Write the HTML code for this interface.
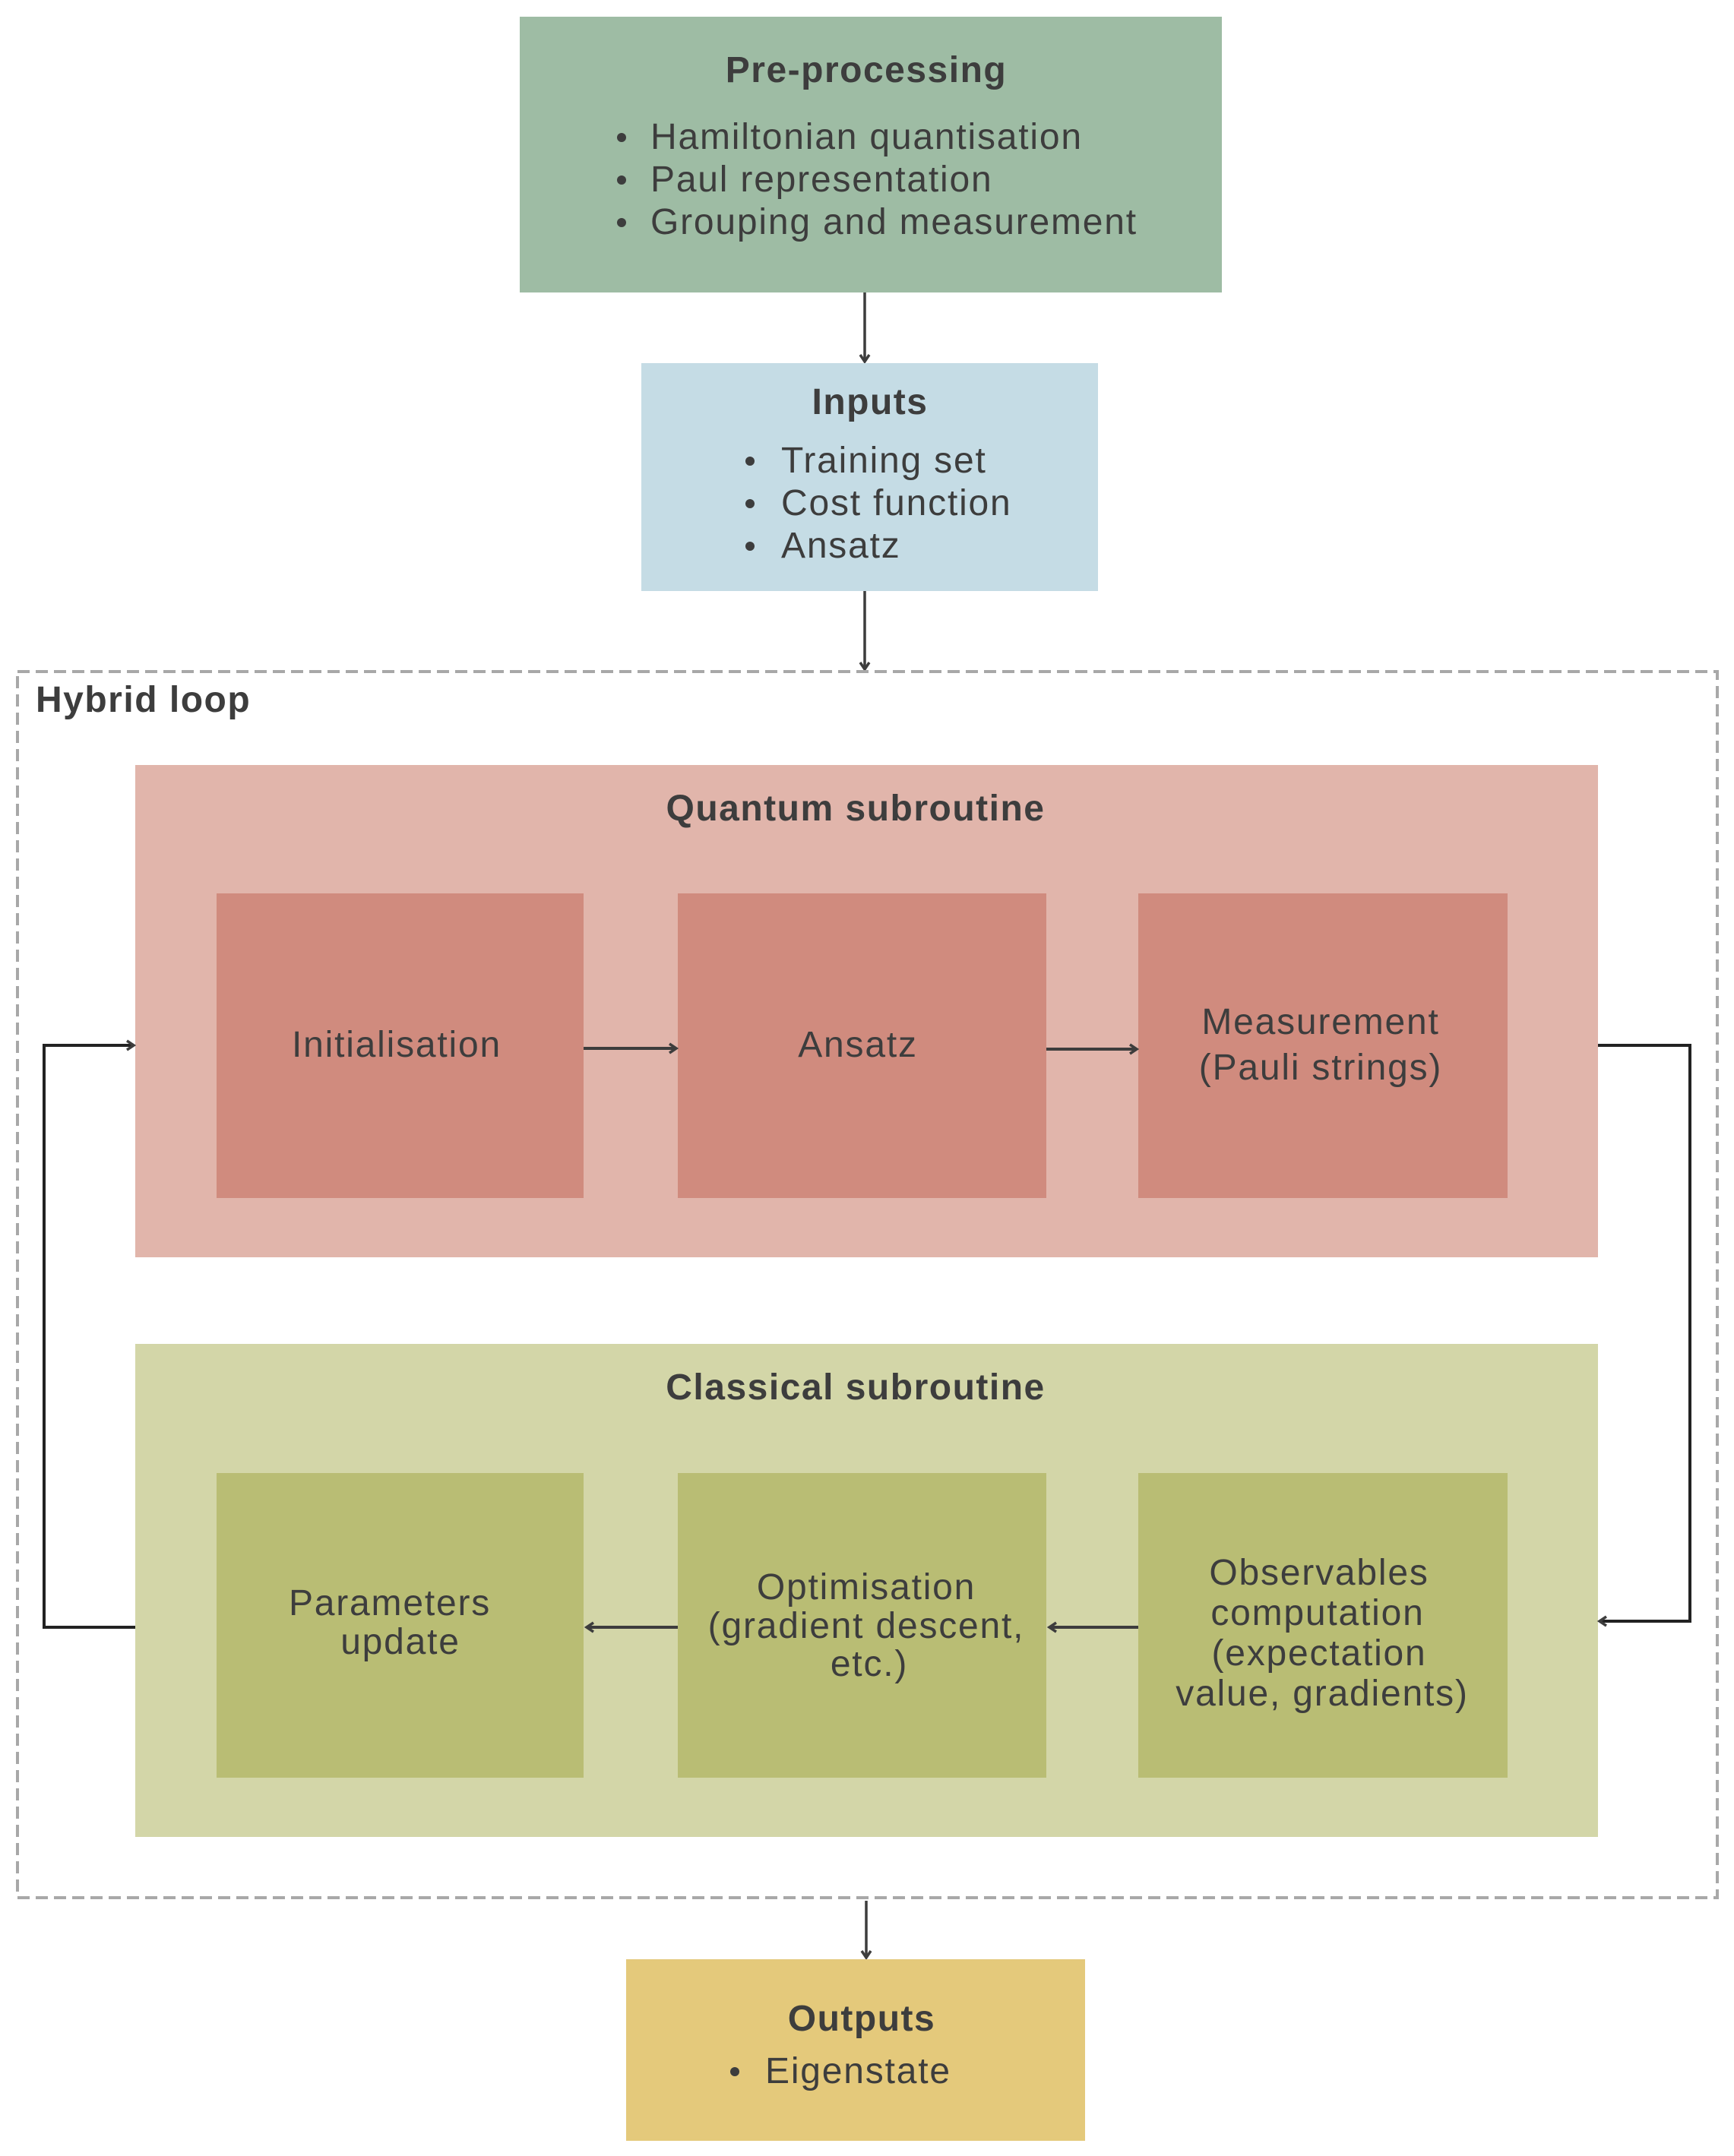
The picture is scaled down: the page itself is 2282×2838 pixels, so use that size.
<!DOCTYPE html>
<html><head><meta charset="utf-8"><style>
html,body{margin:0;padding:0;background:#fff;}
svg{display:block;}
text{font-family:"Liberation Sans",sans-serif;fill:#3d3d3d;}
.b{font-weight:bold;font-size:48px;letter-spacing:1.5px;}
.r{font-size:48px;letter-spacing:1.8px;}
</style></head><body>
<svg width="2282" height="2838" viewBox="0 0 2282 2838" xmlns="http://www.w3.org/2000/svg">
<defs>
<marker id="a" markerWidth="16" markerHeight="16" refX="12" refY="8" orient="auto" markerUnits="userSpaceOnUse">
<path d="M3,2 L12,8 L3,14" fill="none" stroke="#3d3d3d" stroke-width="3.5"/>
</marker>
</defs>
<rect x="684" y="22" width="924" height="363" fill="#9ebca4"/>
<text class="b" x="1140" y="108" text-anchor="middle">Pre-processing</text>
<circle cx="818" cy="181" r="6" fill="#3d3d3d"/><text class="r" x="856" y="196">Hamiltonian quantisation</text>
<circle cx="818" cy="237" r="6" fill="#3d3d3d"/><text class="r" x="856" y="252">Paul representation</text>
<circle cx="818" cy="293" r="6" fill="#3d3d3d"/><text class="r" x="856" y="308">Grouping and measurement</text>
<line x1="1138" y1="385" x2="1138" y2="476" stroke="#3d3d3d" stroke-width="3.5" marker-end="url(#a)"/>
<rect x="844" y="478" width="601" height="300" fill="#c5dce5"/>
<text class="b" x="1145" y="545" text-anchor="middle">Inputs</text>
<circle cx="987" cy="607" r="6" fill="#3d3d3d"/><text class="r" x="1028" y="622">Training set</text>
<circle cx="987" cy="663" r="6" fill="#3d3d3d"/><text class="r" x="1028" y="678">Cost function</text>
<circle cx="987" cy="719" r="6" fill="#3d3d3d"/><text class="r" x="1028" y="734">Ansatz</text>
<line x1="1138" y1="778" x2="1138" y2="881" stroke="#3d3d3d" stroke-width="3.5" marker-end="url(#a)"/>
<rect x="23" y="884" width="2237" height="1614" fill="none" stroke="#a8a8a8" stroke-width="4" stroke-dasharray="16,8"/>
<text class="b" x="47" y="937">Hybrid loop</text>
<rect x="178" y="1007" width="1925" height="648" fill="#e1b5ab"/>
<text class="b" x="1126" y="1080" text-anchor="middle">Quantum subroutine</text>
<rect x="285" y="1176" width="483" height="401" fill="#d08b7e"/>
<rect x="892" y="1176" width="485" height="401" fill="#d08b7e"/>
<rect x="1498" y="1176" width="486" height="401" fill="#d08b7e"/>
<text class="r" x="522" y="1391" text-anchor="middle">Initialisation</text>
<text class="r" x="1129" y="1391" text-anchor="middle">Ansatz</text>
<text class="r" x="1738" y="1361" text-anchor="middle">Measurement</text>
<text class="r" x="1738" y="1421" text-anchor="middle">(Pauli strings)</text>
<line x1="768" y1="1380" x2="890" y2="1380" stroke="#3d3d3d" stroke-width="4" marker-end="url(#a)"/>
<line x1="1377" y1="1381" x2="1496" y2="1381" stroke="#3d3d3d" stroke-width="4" marker-end="url(#a)"/>
<rect x="178" y="1769" width="1925" height="649" fill="#d3d6a8"/>
<text class="b" x="1126" y="1842" text-anchor="middle">Classical subroutine</text>
<rect x="285" y="1939" width="483" height="401" fill="#b9bd74"/>
<rect x="892" y="1939" width="485" height="401" fill="#b9bd74"/>
<rect x="1498" y="1939" width="486" height="401" fill="#b9bd74"/>
<text class="r" x="513" y="2126" text-anchor="middle">Parameters</text>
<text class="r" x="527" y="2177" text-anchor="middle">update</text>
<text class="r" x="1140" y="2105" text-anchor="middle">Optimisation</text>
<text class="r" x="1140" y="2156" text-anchor="middle">(gradient descent,</text>
<text class="r" x="1144" y="2206" text-anchor="middle">etc.)</text>
<text class="r" x="1736" y="2086" text-anchor="middle">Observables</text>
<text class="r" x="1734" y="2139" text-anchor="middle">computation</text>
<text class="r" x="1736" y="2192" text-anchor="middle">(expectation</text>
<text class="r" x="1740" y="2245" text-anchor="middle">value, gradients)</text>
<line x1="892" y1="2142" x2="772" y2="2142" stroke="#3d3d3d" stroke-width="4" marker-end="url(#a)"/>
<line x1="1498" y1="2142" x2="1381" y2="2142" stroke="#3d3d3d" stroke-width="4" marker-end="url(#a)"/>
<polyline points="178,2142 58,2142 58,1376 176,1376" fill="none" stroke="#222" stroke-width="4" marker-end="url(#a)"/>
<polyline points="2103,1376 2224,1376 2224,2134 2105,2134" fill="none" stroke="#222" stroke-width="4" marker-end="url(#a)"/>
<line x1="1140" y1="2502" x2="1140" y2="2577" stroke="#3d3d3d" stroke-width="3.5" marker-end="url(#a)"/>
<rect x="824" y="2579" width="604" height="239" fill="#e4c97b"/>
<text class="b" x="1134" y="2673" text-anchor="middle">Outputs</text>
<circle cx="967" cy="2727" r="6" fill="#3d3d3d"/><text class="r" x="1007" y="2742">Eigenstate</text>
</svg>
</body></html>
